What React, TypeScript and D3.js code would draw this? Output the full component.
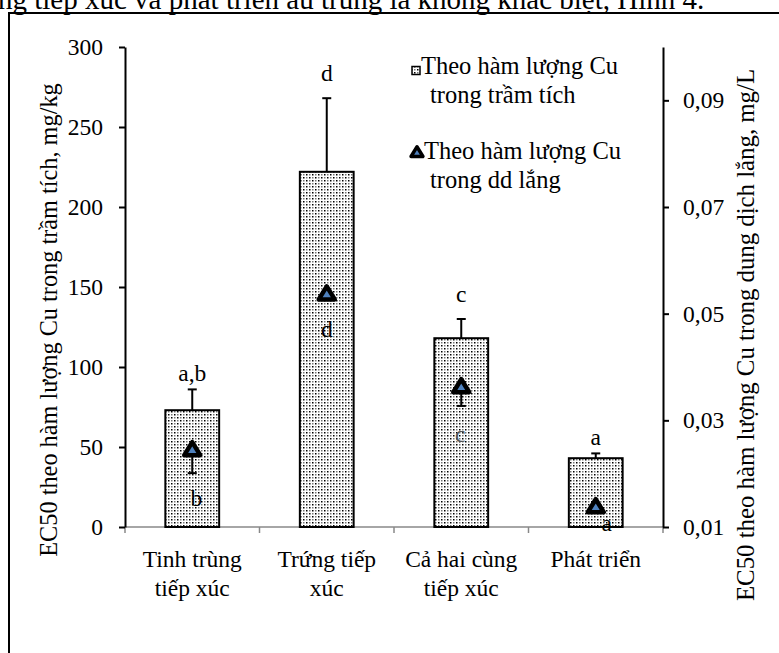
import React, { useEffect, useRef } from 'react';
import * as d3 from 'd3';

// categories (two-line labels) and values
const categories = ['Tinh trùng tiếp xúc', 'Trứng tiếp xúc', 'Cả hai cùng tiếp xúc', 'Phát triển'];
const categoryLines = [['Tinh trùng', 'tiếp xúc'], ['Trứng tiếp', 'xúc'], ['Cả hai cùng', 'tiếp xúc'], ['Phát triển']];
const sedimentEC50 = [73, 222, 118, 43];
const sedimentErr = [13, 46, 12, 3];
const sedimentLetters = ['a,b', 'd', 'c', 'a'];
const solutionEC50 = [0.0246, 0.0538, 0.0364, 0.0139];
const solutionErrLow = [0.0045, 0, 0.0037, 0];
const solutionLetters = ['b', 'd', 'c', 'a'];
const leftTicks = [0, 50, 100, 150, 200, 250, 300];
const rightTicks = [0.01, 0.03, 0.05, 0.07, 0.09];

const FONT = '"Liberation Serif", "Times New Roman", serif';

const App = () => {
  const ref = useRef<SVGSVGElement>(null);

  useEffect(() => {
    const svg = d3.select(ref.current);
    svg.selectAll('*').remove();

    const left = 125, right = 663, top = 47, bottom = 527;

    const x = d3.scaleBand<string>().domain(categories).range([left, right]).padding(0);
    const yL = d3.scaleLinear().domain([0, 300]).range([bottom, top]);
    const yR = d3.scaleLinear().domain([0.01, 0.1]).range([bottom, top]);
    const barW = x.bandwidth() * 0.4;
    const cx = (i: number) => (x(categories[i]) as number) + x.bandwidth() / 2;

    // dotted fill pattern
    const defs = svg.append('defs');
    const pat = defs.append('pattern')
      .attr('id', 'dots')
      .attr('patternUnits', 'userSpaceOnUse')
      .attr('width', 6).attr('height', 6);
    pat.append('rect').attr('width', 6).attr('height', 6).attr('fill', '#fff');
    [[0, 0, '#000'], [3, 3, '#000'], [0, 3, '#777'], [3, 0, '#777']].forEach(([px, py, c]) => {
      pat.append('rect').attr('x', px as number).attr('y', py as number)
        .attr('width', 1.5).attr('height', 1.5).attr('fill', c as string);
    });

    // text above the figure and frame
    svg.append('text')
      .attr('x', -2).attr('y', 9)
      .attr('font-family', FONT).attr('font-size', 29)
      .text('ng tiếp xúc và phát triển ấu trùng là không khác biệt, Hình 4.');
    svg.append('path')
      .attr('d', 'M9,660V13H785')
      .attr('fill', 'none').attr('stroke', '#000').attr('stroke-width', 2);

    // x axis line + category ticks
    svg.append('line')
      .attr('x1', left).attr('x2', right).attr('y1', bottom).attr('y2', bottom)
      .attr('stroke', '#888').attr('stroke-width', 1.5);
    const bounds = categories.map(c => x(c) as number).concat([right]);
    svg.selectAll('line.ctick')
      .data(bounds)
      .join('line')
        .attr('class', 'ctick')
        .attr('x1', d => d).attr('x2', d => d)
        .attr('y1', bottom).attr('y2', bottom + 6)
        .attr('stroke', '#888').attr('stroke-width', 1.5);

    // category labels
    categoryLines.forEach((lines, i) => {
      const t = svg.append('text')
        .attr('font-family', FONT).attr('font-size', 23.5)
        .attr('text-anchor', 'middle');
      lines.forEach((ln, j) => {
        t.append('tspan').attr('x', cx(i)).attr('y', 567 + j * 29).text(ln);
      });
    });

    // left axis
    const gL = svg.append('g').attr('transform', `translate(${left},0)`)
      .call(d3.axisLeft(yL).tickValues(leftTicks).tickSize(6).tickPadding(16).tickSizeOuter(0));
    gL.select('.domain').attr('stroke', '#000').attr('stroke-width', 2);
    gL.selectAll('.tick line').attr('stroke', '#000').attr('stroke-width', 2);
    gL.selectAll('.tick text').attr('font-family', FONT).attr('font-size', 23.5).attr('fill', '#000');

    // right axis
    const gR = svg.append('g').attr('transform', `translate(${right},0)`)
      .call(d3.axisRight(yR).tickValues(rightTicks).tickSize(6).tickPadding(14).tickSizeOuter(0)
        .tickFormat(d => d3.format('.2f')(d as number).replace('.', ',')));
    gR.select('.domain').attr('stroke', '#000').attr('stroke-width', 2);
    gR.selectAll('.tick line').attr('stroke', '#000').attr('stroke-width', 2);
    gR.selectAll('.tick text').attr('font-family', FONT).attr('font-size', 23.5).attr('fill', '#000');

    // axis titles
    svg.append('text')
      .attr('transform', 'translate(51,320) rotate(-90)')
      .attr('text-anchor', 'middle').attr('dominant-baseline', 'middle')
      .attr('font-family', FONT).attr('font-size', 24.3)
      .text('EC50 theo hàm lượng Cu trong trầm tích, mg/kg');
    svg.append('text')
      .attr('transform', 'translate(748,335) rotate(-90)')
      .attr('text-anchor', 'middle').attr('dominant-baseline', 'middle')
      .attr('font-family', FONT).attr('font-size', 24.8)
      .text('EC50 theo hàm lượng Cu trong dung dịch lắng, mg/L');

    // bars
    svg.selectAll('rect.bar')
      .data(sedimentEC50)
      .join('rect')
        .attr('class', 'bar')
        .attr('x', (d, i) => cx(i) - barW / 2)
        .attr('y', d => yL(d))
        .attr('width', barW)
        .attr('height', d => bottom - yL(d))
        .attr('fill', 'url(#dots)')
        .attr('stroke', '#000').attr('stroke-width', 2);

    // bar error bars (upper only)
    const eb = svg.append('g').attr('stroke', '#000').attr('stroke-width', 2);
    sedimentEC50.forEach((v, i) => {
      const y1 = yL(v), y2 = yL(v + sedimentErr[i]);
      eb.append('line').attr('x1', cx(i)).attr('x2', cx(i)).attr('y1', y1).attr('y2', y2);
      eb.append('line').attr('x1', cx(i) - 4.5).attr('x2', cx(i) + 4.5).attr('y1', y2).attr('y2', y2);
    });

    // bar letters
    const barGap = [8, 17, 17, 8];
    svg.selectAll('text.bl')
      .data(sedimentLetters)
      .join('text')
        .attr('class', 'bl')
        .attr('x', (d, i) => cx(i))
        .attr('y', (d, i) => yL(sedimentEC50[i] + sedimentErr[i]) - barGap[i])
        .attr('text-anchor', 'middle')
        .attr('font-family', FONT).attr('font-size', 23.5)
        .text(d => d);

    // triangle error bars (lower only)
    solutionEC50.forEach((v, i) => {
      if (!solutionErrLow[i]) return;
      const y1 = yR(v), y2 = yR(v - solutionErrLow[i]);
      eb.append('line').attr('x1', cx(i)).attr('x2', cx(i)).attr('y1', y1).attr('y2', y2);
      eb.append('line').attr('x1', cx(i) - 4.5).attr('x2', cx(i) + 4.5).attr('y1', y2).attr('y2', y2);
    });

    // triangle markers
    const tri = 'M0,-7L8,6L-8,6Z';
    svg.selectAll('path.tri')
      .data(solutionEC50)
      .join('path')
        .attr('class', 'tri')
        .attr('d', tri)
        .attr('transform', (d, i) => `translate(${cx(i)},${yR(d)})`)
        .attr('fill', '#4f81bd')
        .attr('stroke', '#000').attr('stroke-width', 4.5).attr('stroke-linejoin', 'round');

    // triangle letters
    const triDy = [57, 44, 56, 25];
    const triDx = [4, 0, -1, 11];
    svg.selectAll('text.tl')
      .data(solutionLetters)
      .join('text')
        .attr('class', 'tl')
        .attr('x', (d, i) => cx(i) + triDx[i])
        .attr('y', (d, i) => yR(solutionEC50[i]) + triDy[i])
        .attr('text-anchor', 'middle')
        .attr('font-family', FONT).attr('font-size', 23.5)
        .attr('fill', (d, i) => (i === 2 ? '#555' : '#000'))
        .text(d => d);

    // legend
    const lg = svg.append('g').attr('font-family', FONT).attr('font-size', 24.5);
    lg.append('rect').attr('x', 412).attr('y', 66.5).attr('width', 8).attr('height', 8)
      .attr('fill', 'url(#dots)').attr('stroke', '#000').attr('stroke-width', 1.5);
    lg.append('text').attr('x', 421).attr('y', 73.5).text('Theo hàm lượng Cu');
    lg.append('text').attr('x', 430).attr('y', 103).text('trong trầm tích');
    lg.append('path').attr('d', tri).attr('transform', 'translate(417,152) scale(0.75)')
      .attr('fill', '#4f81bd').attr('stroke', '#000').attr('stroke-width', 4.5).attr('stroke-linejoin', 'round');
    lg.append('text').attr('x', 424).attr('y', 159).text('Theo hàm lượng Cu');
    lg.append('text').attr('x', 430).attr('y', 188).text('trong dd lắng');
  }, []);

  return (
    <svg ref={ref} width={779} height={653} style={{ position: 'absolute', left: 0, top: 0, background: '#fff' }}></svg>
  );
};

export default App;
